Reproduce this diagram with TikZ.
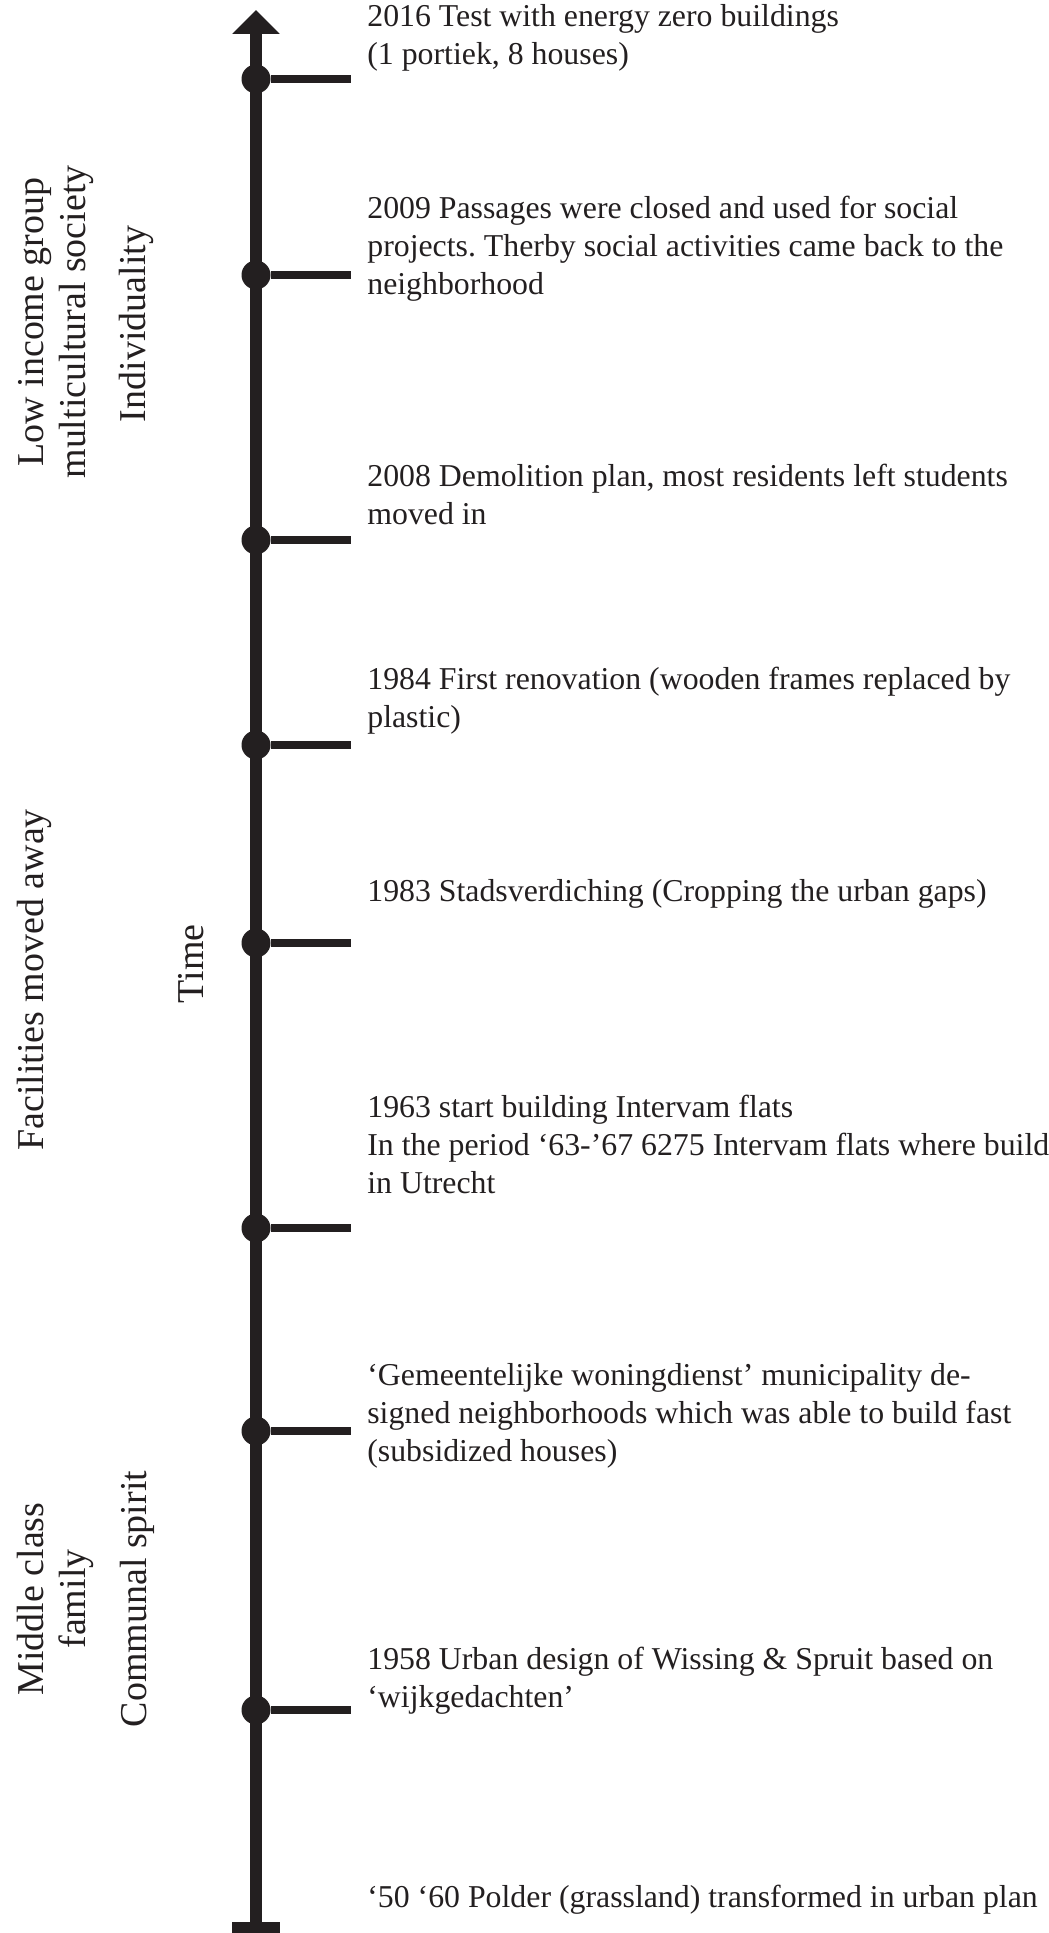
\documentclass[tikz,border=0pt]{standalone}
\usepackage{fontspec}
\setmainfont{Liberation Serif}
\usepackage{xcolor}
\usepackage{tikz}
\usetikzlibrary{
    arrows.meta,
    positioning
}

\definecolor{ink}{HTML}{231F20}
\frenchspacing

\begin{document}
\begin{tikzpicture}[
    axis/.style={
        draw=ink,
        line width=0.24cm
    },
    dot/.style={
        circle,
        fill=ink,
        inner sep=0pt,
        minimum size=0.58cm
    },
    tick/.style={draw=ink, line width=0.16cm},
    event/.style={
        anchor=north west,
        inner sep=0pt,
        align=left,
        text=ink,
        font=\fontsize{18.1}{21.6}\selectfont
    },
    side/.style={
        rotate=90,
        inner sep=0pt,
        align=center,
        text=ink,
        font=\fontsize{21.6}{23.9}\selectfont
    }
]

\useasboundingbox (0, 0) rectangle (20.96, 38.66);

% Time axis
\coordinate (bottom) at (5.12, 0);
\coordinate (top) at (5.12, 38.46);
\draw[axis, {Rectangle[width=0.96cm, length=0.22cm]}-{Triangle[width=0.92cm, length=0.48cm]}] (bottom) -- (top);
\node[side] (time) at (3.82, 19.38) {Time};

% Dots on the axis
\node[dot] (d2016) at (5.12, 37.08) {};
\node[dot] (d2009) at (5.12, 33.16) {};
\node[dot] (d2008) at (5.12, 27.86) {};
\node[dot] (d1984) at (5.12, 23.76) {};
\node[dot] (d1983) at (5.12, 19.80) {};
\node[dot] (d1963) at (5.12, 14.10) {};
\node[dot] (dgem) at (5.12, 10.04) {};
\node[dot] (d1958) at (5.12, 4.46) {};

% Ticks
\coordinate (t2016) at (7.02, 37.08);
\coordinate (t2009) at (7.02, 33.16);
\coordinate (t2008) at (7.02, 27.86);
\coordinate (t1984) at (7.02, 23.76);
\coordinate (t1983) at (7.02, 19.80);
\coordinate (t1963) at (7.02, 14.10);
\coordinate (tgem) at (7.02, 10.04);
\coordinate (t1958) at (7.02, 4.46);
\draw[tick] (d2016) -- (t2016);
\draw[tick] (d2009) -- (t2009);
\draw[tick] (d2008) -- (t2008);
\draw[tick] (d1984) -- (t1984);
\draw[tick] (d1983) -- (t1983);
\draw[tick] (d1963) -- (t1963);
\draw[tick] (dgem) -- (tgem);
\draw[tick] (d1958) -- (t1958);

% Events
\node[event] (e2016) at (7.34, 38.58) {2016 Test with energy zero buildings\\(1 portiek, 8 houses)};
\node[event] (e2009) at (7.34, 34.75) {2009 Passages were closed and used for social\\projects. Therby social activities came back to the\\neighborhood};
\node[event] (e2008) at (7.34, 29.39) {2008 Demolition plan, most residents left students\\moved in};
\node[event] (e1984) at (7.34, 25.33) {1984 First renovation (wooden frames replaced by\\plastic)};
\node[event] (e1983) at (7.34, 21.07) {1983 Stadsverdiching (Cropping the urban gaps)};
\node[event] (e1963) at (7.34, 16.77) {1963 start building Intervam flats\\In the period `63-'67 6275 Intervam flats where build\\in Utrecht};
\node[event] (egem) at (7.34, 11.39) {`Gemeentelijke woningdienst' municipality de-\\signed neighborhoods which was able to build fast\\(subsidized houses)};
\node[event] (e1958) at (7.34, 5.73) {1958 Urban design of Wissing \& Spruit based on\\`wijkgedachten'};
\node[event, anchor=base west] (e1950) at (7.34, 0.52) {`50 `60 Polder (grassland) transformed in urban plan};

% Periods
\node[side] (lowincome) at (1.12, 32.22) {Low income group\\multicultural society};
\node[side] (individual) at (2.72, 32.18) {Individuality};
\node[side] (facilities) at (0.68, 19.06) {Facilities moved away};
\node[side] (middle) at (1.10, 6.68) {Middle class\\family};
\node[side] (communal) at (2.74, 6.68) {Communal spirit};

\end{tikzpicture}
\end{document}
